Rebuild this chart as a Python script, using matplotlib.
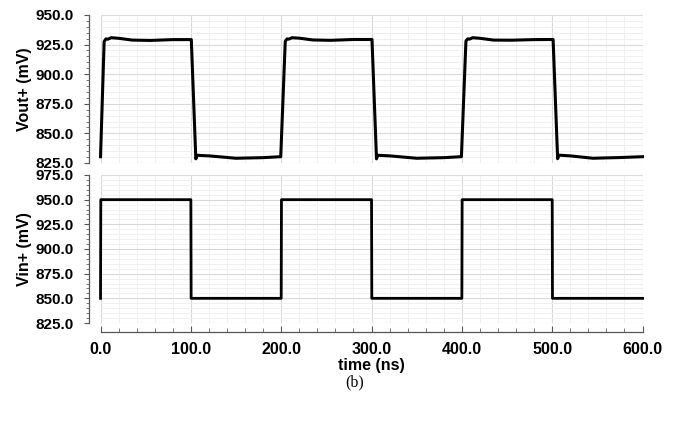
import matplotlib.pyplot as plt
from matplotlib.ticker import MultipleLocator, FormatStrFormatter

plt.rcParams['font.family'] = ['Liberation Sans', 'DejaVu Sans']
plt.rcParams['font.weight'] = 'bold'

# output node, transient response (ns, mV)
t_out = [0.0, 4.0, 6.0, 8.0, 12.0, 20.0, 35.0, 55.0, 80.0, 100.5,
         105.5, 107.0, 120.0, 150.0, 180.0, 199.5,
         204.5, 206.5, 208.5, 212.0, 220.0, 235.0, 255.0, 280.0, 300.5,
         305.5, 307.0, 320.0, 350.0, 380.0, 399.5,
         404.5, 406.5, 408.5, 412.0, 420.0, 435.0, 455.0, 480.0, 501.0,
         506.0, 507.5, 520.0, 545.0, 575.0, 600.0]
v_out = [830.3, 927.5, 929.8, 929.5, 930.8, 930.3, 928.8, 928.5, 929.2, 929.2,
         828.5, 831.5, 831.0, 829.0, 829.5, 830.3,
         927.8, 929.8, 929.6, 930.8, 930.4, 928.9, 928.6, 929.3, 929.3,
         828.5, 831.5, 831.0, 829.0, 829.5, 830.3,
         928.0, 929.8, 929.6, 930.8, 930.3, 928.8, 928.7, 929.2, 929.3,
         828.6, 831.6, 831.0, 829.0, 829.6, 830.3]

# input node, square wave (ns, mV)
t_in = [0.0, 0.3, 100.0, 100.3, 200.0, 200.3, 300.0, 300.3, 400.0, 400.3,
        500.0, 500.3, 600.0]
v_in = [850, 950, 950, 850, 850, 950, 950, 850, 850, 950, 950, 850, 850]

fig = plt.figure(figsize=(6.76, 4.23), dpi=100)
ax1 = fig.add_axes([0.1487, 0.6147, 0.8018, 0.3499])
ax2 = fig.add_axes([0.1487, 0.2364, 0.8018, 0.3499])


def style(ax, ymin, ymax):
    ax.set_xlim(0, 600)
    ax.set_ylim(ymin, ymax)
    for s in ['top', 'right', 'bottom']:
        ax.spines[s].set_visible(False)
    ax.spines['left'].set_position(('outward', 8.6))
    ax.spines['left'].set_linewidth(0.9)
    ax.spines['left'].set_color('#555555')
    ax.xaxis.set_major_locator(MultipleLocator(100))
    ax.xaxis.set_minor_locator(MultipleLocator(20))
    ax.yaxis.set_major_locator(MultipleLocator(25))
    ax.yaxis.set_minor_locator(MultipleLocator(5))
    ax.yaxis.set_major_formatter(FormatStrFormatter('%.1f'))
    ax.xaxis.set_major_formatter(FormatStrFormatter('%.1f'))
    ax.grid(which='major', color='#d9d9d9', linewidth=0.8)
    ax.grid(which='minor', color='#eeeeee', linewidth=0.6)
    ax.set_axisbelow(True)
    ax.tick_params(axis='y', which='major', direction='out', length=3.5,
                   width=0.8, color='#555555', pad=7, labelsize=11)
    ax.tick_params(axis='y', which='minor', direction='out', length=2.5,
                   width=0.7, color='#777777')


style(ax1, 825, 950)
style(ax2, 825, 975)

ax1.tick_params(axis='x', which='both', bottom=False, labelbottom=False)

ax2.spines['bottom'].set_visible(True)
ax2.spines['bottom'].set_position(('outward', 6.5))
ax2.spines['bottom'].set_linewidth(0.9)
ax2.spines['bottom'].set_color('#555555')
ax2.tick_params(axis='x', which='major', direction='in', length=4.5,
                width=0.8, color='#555555', pad=7, labelsize=11.5)
ax2.tick_params(axis='x', which='minor', direction='in', length=3,
                width=0.7, color='#777777')

ax1.plot(t_out, v_out, color='black', linewidth=2.2, clip_on=False)
ax2.plot(t_in, v_in, color='black', linewidth=2.0, clip_on=False)

ax1.set_ylabel('Vout+ (mV)', fontsize=11.5, fontweight='bold')
ax2.set_ylabel('Vin+ (mV)', fontsize=11.5, fontweight='bold')
ax1.yaxis.set_label_coords(-0.126, 0.5)
ax2.yaxis.set_label_coords(-0.126, 0.5)
ax2.set_xlabel('time (ns)', fontsize=11.5, fontweight='bold')
ax2.xaxis.set_label_coords(0.5, -0.236)

fig.text(0.525, 0.097, '(b)', fontsize=11.5, fontweight='normal',
         family='Liberation Serif', ha='center', va='center')

fig.savefig('out.png', dpi=100)
